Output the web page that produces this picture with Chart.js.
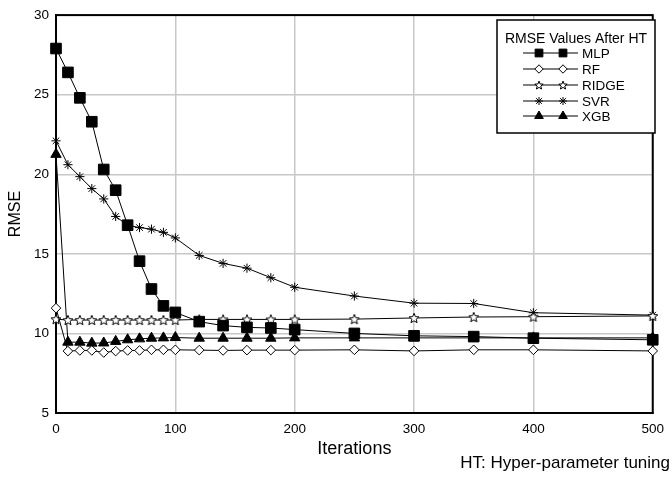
<!DOCTYPE html>
<html><head><meta charset="utf-8">
<script src="https://cdn.jsdelivr.net/npm/chart.js@4.4.1/dist/chart.umd.min.js"></script>
<style>html,body{margin:0;padding:0;background:#fff}#wrap{width:672px;height:477px}</style>
</head><body><div id="wrap"><canvas id="c" width="672" height="477"></canvas></div>
<script>
const iterations = [0,10,20,30,40,50,60,70,80,90,100,120,140,160,180,200,250,300,350,400,500];
const mlp   = [27.9,26.4,24.8,23.3,20.3,19.0,16.8,14.54,12.79,11.73,11.32,10.74,10.49,10.38,10.34,10.24,10.0,9.85,9.8,9.7,9.6];
const rf    = [11.59,8.89,8.93,8.93,8.8,8.89,8.93,8.93,8.97,8.97,8.97,8.95,8.93,8.95,8.95,8.95,8.97,8.9,8.97,8.97,8.9];
const ridge = [10.9,10.84,10.84,10.84,10.84,10.84,10.84,10.84,10.84,10.84,10.84,10.88,10.88,10.88,10.88,10.88,10.9,10.97,11.03,11.05,11.1];
const svr   = [22.1,20.6,19.85,19.1,18.45,17.35,16.8,16.65,16.55,16.35,16.0,14.9,14.4,14.1,13.5,12.9,12.35,11.9,11.88,11.3,11.15];
const xgb   = [21.25,9.45,9.45,9.39,9.4,9.5,9.6,9.66,9.7,9.72,9.74,9.7,9.7,9.7,9.7,9.72,9.72,9.72,9.72,9.72,9.72];
const seriesNames = ['MLP','RF','RIDGE','SVR','XGB'];
const xTicks = [0,100,200,300,400,500];
const yTicks = [5,10,15,20,25,30];
const legendTitle = 'RMSE Values After HT';
const noteText = 'HT: Hyper-parameter tuning';
const xTitle = 'Iterations';
const yTitle = 'RMSE';

const FONT = "'Liberation Sans', Arial, sans-serif";

function makeStar(outer, inner){
  const s = Math.ceil(outer*2+3);
  const c = document.createElement('canvas');
  c.width = s; c.height = s;
  const g = c.getContext('2d');
  g.beginPath();
  for(let i=0;i<10;i++){
    const r = i%2===0 ? outer : inner;
    const a = -Math.PI/2 + i*Math.PI/5;
    const px = s/2 + r*Math.cos(a), py = s/2 + r*Math.sin(a) + 0.5;
    if(i===0) g.moveTo(px,py); else g.lineTo(px,py);
  }
  g.closePath();
  g.fillStyle='#fff'; g.fill();
  g.strokeStyle='#000'; g.lineWidth=1; g.stroke();
  return c;
}
const starBig = makeStar(5.2,2.3);
const starSmall = makeStar(4.4,1.9);

const pts = arr => iterations.map((x,i)=>({x:x,y:arr[i]}));
const styles = [
  {pointStyle:'rect', radius:7.5, fill:'#000', lr:5.5},
  {pointStyle:'rectRot', radius:4.8, fill:'#fff', lr:4.2},
  {pointStyle:starBig, radius:5, fill:'#fff', lr:4, small:starSmall},
  {pointStyle:'star', radius:4.6, fill:'#000', lr:4},
  {pointStyle:'triangle', radius:6, fill:'#000', lr:5}
];
const allData = [mlp, rf, ridge, svr, xgb];
const datasets = allData.map((arr,i)=>({
  label: seriesNames[i],
  data: pts(arr),
  borderColor:'#000',
  borderWidth:1,
  backgroundColor: styles[i].fill,
  pointStyle: styles[i].pointStyle,
  pointRadius: styles[i].radius,
  pointHoverRadius: styles[i].radius,
  pointBackgroundColor: styles[i].fill,
  pointBorderColor:'#000',
  pointBorderWidth:1,
  tension:0,
  fill:false,
  clip:false
}));

const framePlugin = {
  id:'frame',
  beforeDatasetsDraw(chart){
    const {ctx, chartArea:a} = chart;
    ctx.save();
    ctx.strokeStyle='#000'; ctx.lineWidth=2;
    ctx.strokeRect(a.left, a.top, a.right-a.left, a.bottom-a.top);
    ctx.restore();
  },
  afterDraw(chart){
    const ctx = chart.ctx;
    ctx.save();
    // legend box
    const bx=497, by=20, bw=158, bh=113;
    ctx.fillStyle='#fff'; ctx.fillRect(bx,by,bw,bh);
    ctx.strokeStyle='#000'; ctx.lineWidth=1.5; ctx.strokeRect(bx,by,bw,bh);
    ctx.fillStyle='#000';
    ctx.font = "14px " + FONT;
    ctx.textAlign='center'; ctx.textBaseline='alphabetic';
    ctx.fillText(legendTitle, bx+bw/2, 43);
    const rows=[53,69,85,101,116];
    ctx.font = "13.5px " + FONT;
    chart.data.datasets.forEach((ds,i)=>{
      const y=rows[i];
      ctx.strokeStyle='#000'; ctx.lineWidth=1;
      ctx.beginPath(); ctx.moveTo(523,y); ctx.lineTo(578,y); ctx.stroke();
      const st = styles[i];
      const ps = st.small ? st.small : ds.pointStyle;
      [539,563].forEach(mx=>{
        ctx.fillStyle = st.fill; ctx.strokeStyle='#000'; ctx.lineWidth=1;
        Chart.helpers.drawPoint(ctx,{pointStyle:ps, radius:st.lr, rotation:0, borderWidth:1}, mx, y);
      });
      ctx.fillStyle='#000'; ctx.textAlign='left'; ctx.textBaseline='alphabetic';
      ctx.fillText(ds.label, 582, y+5);
    });
    // note
    ctx.font = "17px " + FONT;
    ctx.textAlign='right'; ctx.fillStyle='#000';
    ctx.fillText(noteText, 670, 468);
    ctx.restore();
  }
};

new Chart(document.getElementById('c'), {
  type:'line',
  data:{datasets},
  options:{
    responsive:false,
    animation:false,
    devicePixelRatio:1,
    layout:{padding:{left:0,right:14,top:12,bottom:14}},
    plugins:{legend:{display:false}, tooltip:{enabled:false}},
    scales:{
      x:{
        type:'linear', min:0, max:500,
        afterBuildTicks(s){ s.ticks = xTicks.map(v=>({value:v})); },
        afterFit(s){ s.height = 50; },
        ticks:{padding:8, color:'#000', font:{family:FONT, size:13.5}, maxRotation:0},
        grid:{color:'#c8c8c8', lineWidth:1.5, drawTicks:false},
        border:{color:'#000', width:2},
        title:{display:true, text:xTitle, color:'#000', font:{family:FONT, size:18}, padding:{top:0,bottom:3}}
      },
      y:{
        type:'linear', min:5, max:30,
        afterBuildTicks(s){ s.ticks = yTicks.map(v=>({value:v})); },
        afterFit(s){ s.width = 56; },
        ticks:{padding:7, color:'#000', font:{family:FONT, size:13.5}},
        grid:{color:'#c8c8c8', lineWidth:1.5, drawTicks:false},
        border:{color:'#000', width:2},
        title:{display:true, text:yTitle, color:'#000', font:{family:FONT, size:16}, padding:{top:6,bottom:0}}
      }
    }
  },
  plugins:[framePlugin]
});
</script>
</body></html>
